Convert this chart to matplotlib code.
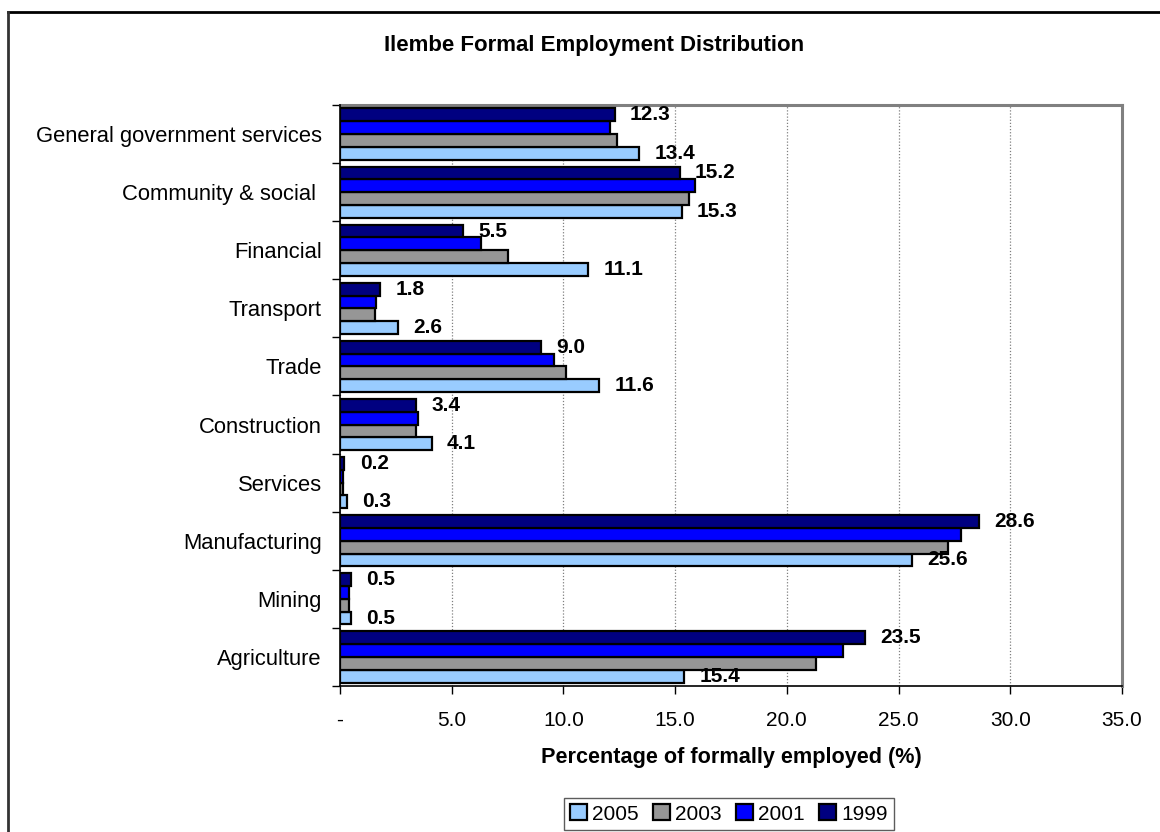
import numpy as np
import matplotlib.pyplot as plt
from matplotlib.lines import Line2D
from matplotlib.ticker import FixedLocator

plt.rcParams['font.family'] = ['Liberation Sans', 'DejaVu Sans']

# sectors, bottom to top as drawn
sectors = ['Agriculture', 'Mining', 'Manufacturing', 'Services', 'Construction',
           'Trade', 'Transport', 'Financial', 'Community & social ',
           'General government services']

# share of formal employment (%) per year, same order as sectors
y2005 = [15.4, 0.5, 25.6, 0.3, 4.1, 11.6, 2.6, 11.1, 15.3, 13.4]
y2003 = [21.3, 0.4, 27.2, 0.15, 3.4, 10.1, 1.55, 7.5, 15.6, 12.4]
y2001 = [22.5, 0.4, 27.8, 0.15, 3.5, 9.6, 1.6, 6.3, 15.9, 12.1]
y1999 = [23.5, 0.5, 28.6, 0.2, 3.4, 9.0, 1.8, 5.5, 15.2, 12.3]

years = ['2005', '2003', '2001', '1999']
colors = ['#99ccff', '#969696', '#0000ff', '#000080']
series = [y2005, y2003, y2001, y1999]

xticks = [0, 5, 10, 15, 20, 25, 30, 35]
xticklabels = ['-', '5.0', '10.0', '15.0', '20.0', '25.0', '30.0', '35.0']

fig = plt.figure(figsize=(11.6, 8.32), dpi=100)
ax = fig.add_axes([340 / 1160, 1 - 686 / 832, 782 / 1160, 581 / 832])

# outer chart border (top and left edges only reach into view)
fig.add_artist(Line2D([8 / 1160, 1.0], [1 - 12 / 832] * 2, color='black', lw=2))
fig.add_artist(Line2D([8 / 1160] * 2, [0, 1 - 12 / 832], color='#333333', lw=2))

y = np.arange(len(sectors))
h = 0.22
offsets = [-1.5 * h, -0.5 * h, 0.5 * h, 1.5 * h]

for vals, col, off, lab in zip(series, colors, offsets, years):
    ax.barh(y + off, vals, height=h, color=col, edgecolor='black', linewidth=1.6,
            label=lab, zorder=3)

# value labels on the 1999 and 2005 bars
for i in range(len(sectors)):
    for vals, off in ((y1999, offsets[3]), (y2005, offsets[0])):
        ax.annotate(f'{vals[i]:.1f}', (vals[i], y[i] + off), xytext=(11, 0),
                    textcoords='offset points', va='center', ha='left',
                    fontsize=15, fontweight='bold', zorder=4)

ax.set_xlim(0, 35)
ax.set_ylim(-0.5, len(sectors) - 0.5)
ax.set_xticks(xticks)
ax.set_xticklabels(xticklabels, fontsize=15)
ax.set_yticks(y)
ax.set_yticklabels(sectors, fontsize=15.8)
ax.tick_params(axis='y', which='major', length=0, pad=13)
ax.yaxis.set_minor_locator(FixedLocator(np.arange(-0.5, len(sectors), 1)))
ax.tick_params(axis='y', which='minor', length=6, direction='out', width=1)
ax.tick_params(axis='x', length=6, direction='out', width=1, pad=12)

ax.grid(axis='x', color='#808080', linestyle=(0, (1, 1.5)), linewidth=0.9, zorder=0)

for side in ('top', 'right'):
    ax.spines[side].set_color('#808080')
    ax.spines[side].set_linewidth(2.2)
for side in ('left', 'bottom'):
    ax.spines[side].set_color('black')
    ax.spines[side].set_linewidth(1.2)
ax.spines['left'].set_zorder(5)

ax.set_xlabel('Percentage of formally employed (%)', fontsize=15.6, fontweight='bold',
              labelpad=12)
fig.text(594 / 1160, 1 - 45 / 832, 'Ilembe Formal Employment Distribution', ha='center',
         va='center', fontsize=16, fontweight='bold')

leg = fig.legend(loc='center', bbox_to_anchor=(729 / 1160, 1 - 814 / 832), ncol=4,
                 fontsize=15, frameon=True, fancybox=False, edgecolor='#333333',
                 handlelength=0.8, handleheight=0.8, handletextpad=0.25,
                 columnspacing=0.7, borderpad=0.3)
leg.get_frame().set_linewidth(1)

fig.savefig('out.png', dpi=100, facecolor='white')
